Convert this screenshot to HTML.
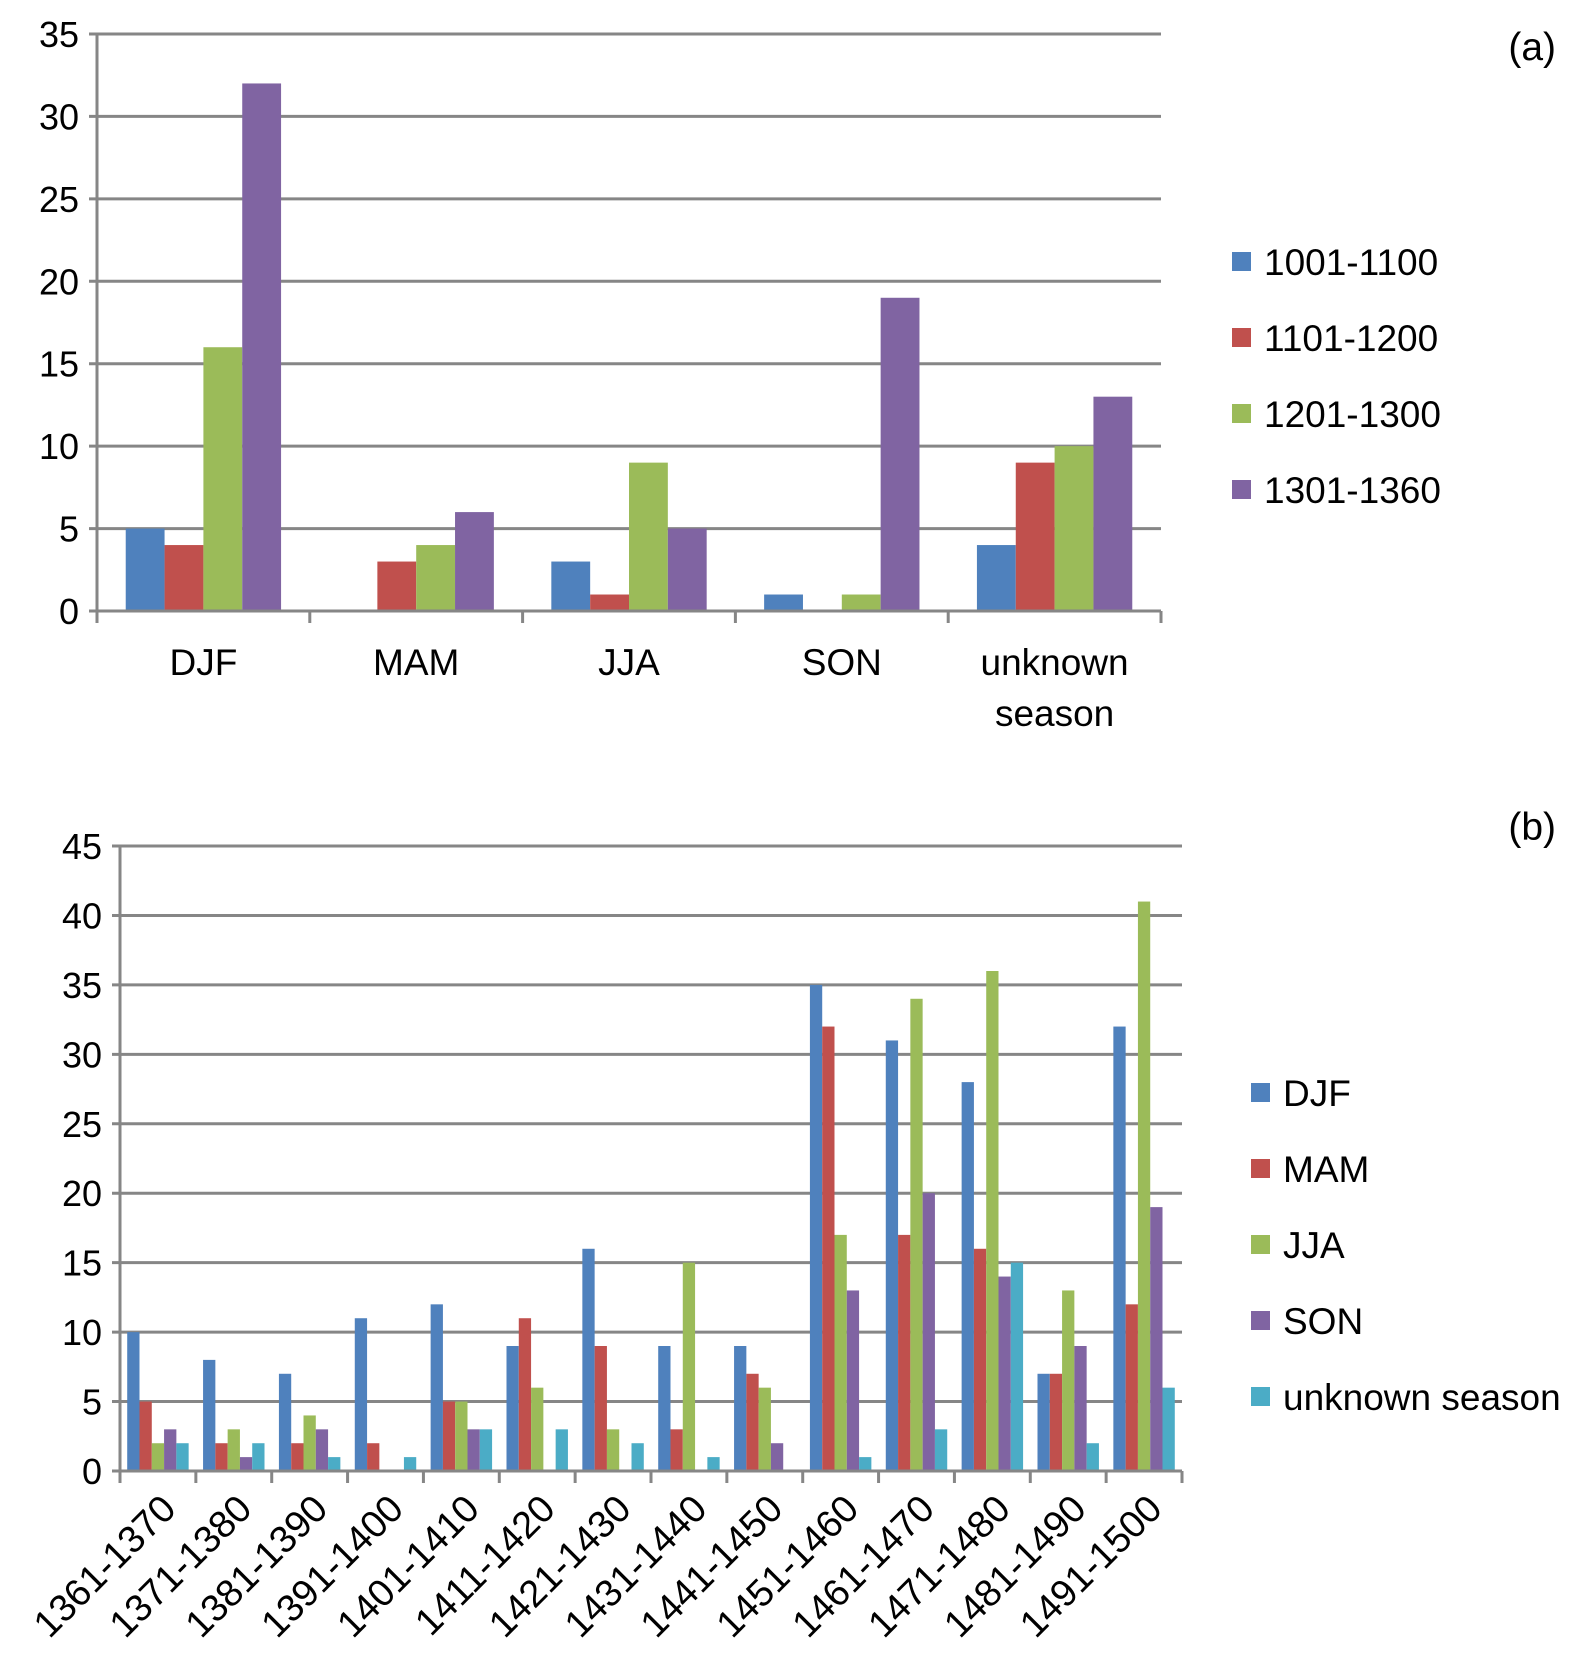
<!DOCTYPE html>
<html><head><meta charset="utf-8"><style>
html,body{margin:0;padding:0;background:#fff;}
svg{display:block;font-family:"Liberation Sans",sans-serif;}
</style></head><body>
<svg id="chart" width="1580" height="1669" viewBox="0 0 1580 1669" xmlns="http://www.w3.org/2000/svg"></svg>
<script>
const catsA = ["DJF","MAM","JJA","SON","unknown season"];
const seriesNamesA = ["1001-1100","1101-1200","1201-1300","1301-1360"];
const a1001 = [5,0,3,1,4];
const a1101 = [4,3,1,0,9];
const a1201 = [16,4,9,1,10];
const a1301 = [32,6,5,19,13];
const ticksA = [0,5,10,15,20,25,30,35];

const catsB = ["1361-1370","1371-1380","1381-1390","1391-1400","1401-1410","1411-1420","1421-1430","1431-1440","1441-1450","1451-1460","1461-1470","1471-1480","1481-1490","1491-1500"];
const seriesNamesB = ["DJF","MAM","JJA","SON","unknown season"];
const bDJF = [10,8,7,11,12,9,16,9,9,35,31,28,7,32];
const bMAM = [5,2,2,2,5,11,9,3,7,32,17,16,7,12];
const bJJA = [2,3,4,0,5,6,3,15,6,17,34,36,13,41];
const bSON = [3,1,3,0,3,0,0,0,2,13,20,14,9,19];
const bUNK = [2,2,1,1,3,3,2,1,0,1,3,15,2,6];
const ticksB = [0,5,10,15,20,25,30,35,40,45];

const colors = ["#4f81bd","#c0504d","#9bbb59","#8064a2","#4bacc6"];
const NS = "http://www.w3.org/2000/svg";
const svg = document.getElementById("chart");
function mk(tag, attrs, parent){
  const e = document.createElementNS(NS, tag);
  for (const k in attrs) e.setAttribute(k, attrs[k]);
  (parent||svg).appendChild(e);
  return e;
}

function drawPanel(cfg){
  const g = mk("g", {});
  
  
  const {x0,x1,y0,yTop,max,cats,series,names,ticks} = cfg;
  const y = v => y0 - (v/max)*(y0-yTop);
  const cw = (x1-x0)/cats.length;
  ticks.forEach(t=>{
    const gl = mk("line",{x1:x0-8,x2:x1,y1:y(t),y2:y(t),stroke:"#868686","stroke-width":3},g);
    
    
    const tl = mk("text",{x:x0-18,y:y(t)+13,"text-anchor":"end","font-size":cfg.tickFont,fill:"#000"},g);
    tl.textContent = t;
    
    
  });
  const n = series.length;
  const bw = cw*cfg.groupFrac/n;
  const off = (cw - bw*n)/2;
  series.forEach((s,si)=>{
    s.forEach((v,ci)=>{
      if (v<=0) return;
      const r = mk("rect",{x:x0+ci*cw+off+si*bw,y:y(v),width:bw,height:y0-y(v),fill:colors[si]},g);
      
      
    });
  });
  const ya = mk("line",{x1:x0,x2:x0,y1:yTop,y2:y0+12,stroke:"#868686","stroke-width":3},g);
  
  
  const xa = mk("line",{x1:x0,x2:x1,y1:y0,y2:y0,stroke:"#868686","stroke-width":3},g);
  
  
  for (let i=0;i<=cats.length;i++){
    const tk = mk("line",{x1:x0+i*cw,x2:x0+i*cw,y1:y0,y2:y0+12,stroke:"#868686","stroke-width":3},g);
    
    
  }
  cats.forEach((c,ci)=>{
    const cx = x0+ci*cw+cw/2;
    let t;
    if (cfg.rotate){
      t = mk("text",{x:0,y:0,"text-anchor":"end","font-size":cfg.catFont,fill:"#000",transform:`translate(${cx+20},${y0+40}) rotate(-45)`},g);
      t.textContent = c;
    } else {
      t = mk("text",{x:cx,y:y0+64,"text-anchor":"middle","font-size":cfg.catFont,fill:"#000"},g);
      const parts = c==="unknown season" ? ["unknown","season"] : [c];
      parts.forEach((p,pi)=>{
        const ts = mk("tspan",{x:cx,dy:pi===0?0:51},t);
        ts.textContent = p;
      });
    }
    
    
  });
  names.forEach((nm,i)=>{
    const ly = cfg.legY + i*cfg.legStep;
    const sq = mk("rect",{x:cfg.legX,y:ly-10,width:19,height:19,fill:colors[i]},g);
    
    
    const lt = mk("text",{x:cfg.legX+32,y:ly+13,"font-size":cfg.legFont,fill:"#000"},g);
    lt.textContent = nm;
    
    
  });
  const pl = mk("text",{x:1556,y:cfg.panelY,"text-anchor":"end","font-size":39,fill:"#000"},g);
  pl.textContent = cfg.label;
  
  
}

drawPanel({name:"panel-a",x0:97,x1:1161,y0:611,yTop:34,max:35,cats:catsA,
  series:[a1001,a1101,a1201,a1301],names:seriesNamesA,ticks:ticksA,groupFrac:0.73,
  tickFont:36,catFont:37,rotate:false,legX:1232,legY:262,legStep:76,legFont:37,label:"(a)",panelY:60});
drawPanel({name:"panel-b",x0:120,x1:1182,y0:1471,yTop:846,max:45,cats:catsB,
  series:[bDJF,bMAM,bJJA,bSON,bUNK],names:seriesNamesB,ticks:ticksB,groupFrac:0.81,
  tickFont:36,catFont:38,rotate:true,legX:1251,legY:1093,legStep:76,legFont:37,label:"(b)",panelY:840});
</script>
</body></html>
